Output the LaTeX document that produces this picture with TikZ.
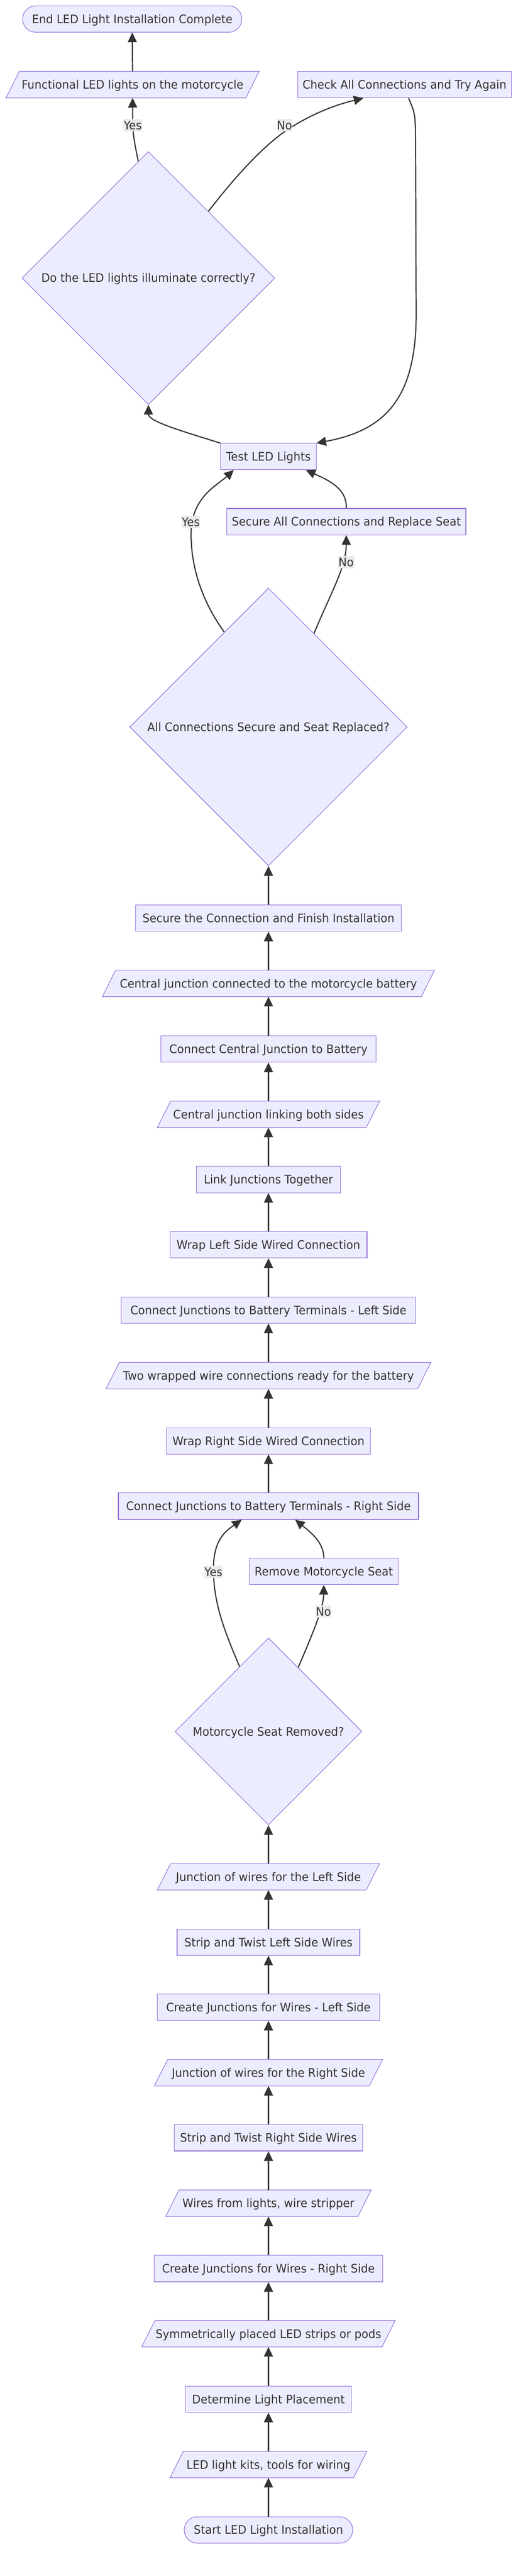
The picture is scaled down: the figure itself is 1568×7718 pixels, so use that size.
\documentclass[tikz,border=0pt]{standalone}
\usepackage{fontspec}
\setmainfont{DejaVu Sans}[FakeStretch=0.95]
\usetikzlibrary{shapes.geometric,arrows.meta,calc,backgrounds}
\definecolor{nodefill}{HTML}{ECECFF}
\definecolor{nodeline}{HTML}{9370DB}
\definecolor{inkc}{HTML}{333333}
\definecolor{lblbg}{HTML}{EAEAEA}
\tikzset{
  base/.style={font=\fontsize{35.2}{42}\selectfont, text=inkc, inner sep=0pt,
    text height=25.7pt, text depth=0pt, minimum height=79pt},
  box/.style={base, rectangle, draw=nodeline, fill=nodefill, line width=1.7pt},
  stadium/.style={box, rounded corners=39pt},
  para/.style={base, rectangle},
  parashape/.style={draw=nodeline, fill=nodefill, line width=1.7pt},
  decision/.style={base, diamond, aspect=1, draw=nodeline, fill=nodefill, line width=1.7pt},
  edge/.style={draw=inkc, line width=3.4pt, -{Triangle[length=29pt,width=27pt]}},
  elabel/.style={font=\fontsize{35.2}{42}\selectfont, text=inkc, fill=lblbg,
    text height=25.7pt, text depth=0pt, inner xsep=0.5pt, inner ysep=5.6pt},
}
\newcommand\parabg[1]{\path[parashape] ($(#1.south west)+(-20,0)$) -- ($(#1.north west)+(20,0)$) -- ($(#1.north east)+(20,0)$) -- ($(#1.south east)+(-20,0)$) -- cycle;}
\begin{document}
\begin{tikzpicture}[x=1pt,y=-1pt]
\useasboundingbox (0,0) rectangle (1568,7718);
% nodes
\node[stadium, minimum width=657pt] (endn) at (396.5,57) {End LED Light Installation Complete};
\node[para, minimum width=719pt] (func) at (397.5,253.5) {Functional LED lights on the motorcycle};
\node[box, minimum width=640pt] (check) at (1213,253.5) {Check All Connections and Try Again};
\node[decision, minimum width=758pt, minimum height=758pt] (d1) at (445,833) {Do the LED lights illuminate correctly?};
\node[box, minimum width=286pt] (test) at (805,1368) {Test LED Lights};
\node[box, minimum width=717pt] (secall) at (1038.5,1563) {Secure All Connections and Replace Seat};
\node[decision, minimum width=832pt, minimum height=832pt] (d2) at (805,2178) {All Connections Secure and Seat Replaced?};
\node[box, minimum width=796pt] (secure) at (805,2751) {Secure the Connection and Finish Installation};
\node[para, minimum width=956pt] (cjbat) at (805,2946.5) {Central junction connected to the motorcycle battery};
\node[box, minimum width=645pt] (ccjb) at (805,3143) {Connect Central Junction to Battery};
\node[para, minimum width=626pt] (cjlink) at (805,3338.5) {Central junction linking both sides};
\node[box, minimum width=432pt] (link) at (805,3534) {Link Junctions Together};
\node[box, minimum width=591pt] (wrapl) at (805,3729.5) {Wrap Left Side Wired Connection};
\node[box, minimum width=882pt] (connl) at (805,3925) {Connect Junctions to Battery Terminals - Left Side};
\node[para, minimum width=934pt] (two) at (805,4121.5) {Two wrapped wire connections ready for the battery};
\node[box, minimum width=610pt] (wrapr) at (805,4317) {Wrap Right Side Wired Connection};
\node[box, minimum width=900pt] (connr) at (805,4512.5) {Connect Junctions to Battery Terminals - Right Side};
\node[box, minimum width=446pt] (remove) at (971,4708) {Remove Motorcycle Seat};
\node[decision, minimum width=560pt, minimum height=560pt] (d3) at (805,5187.5) {Motorcycle Seat Removed?};
\node[para, minimum width=626pt] (jl) at (805,5623) {Junction of wires for the Left Side};
\node[box, minimum width=548pt] (stripl) at (805,5819) {Strip and Twist Left Side Wires};
\node[box, minimum width=668pt] (cjl) at (805,6014) {Create Junctions for Wires - Left Side};
\node[para, minimum width=644pt] (jr) at (805,6210) {Junction of wires for the Right Side};
\node[box, minimum width=566pt] (stripr) at (805,6405) {Strip and Twist Right Side Wires};
\node[para, minimum width=576pt] (wires) at (805,6601) {Wires from lights, wire stripper};
\node[box, minimum width=686pt] (cjr) at (805,6797) {Create Junctions for Wires - Right Side};
\node[para, minimum width=720pt] (sym) at (805,6992) {Symmetrically placed LED strips or pods};
\node[box, minimum width=496pt] (det) at (805,7188) {Determine Light Placement};
\node[para, minimum width=550pt] (kits) at (805,7384) {LED light kits, tools for wiring};
\node[stadium, minimum width=505pt] (start) at (805,7580) {Start LED Light Installation};
% parallelogram outlines
\begin{scope}[on background layer]
\foreach \p in {func,cjbat,cjlink,two,jl,jr,wires,sym,kits} {\parabg{\p}}
\end{scope}
% straight edges
\foreach \a/\b in {start/kits,kits/det,det/sym,sym/cjr,cjr/wires,wires/stripr,stripr/jr,jr/cjl,cjl/stripl,stripl/jl,jl/d3,
  connr/wrapr,wrapr/two,two/connl,connl/wrapl,wrapl/link,link/cjlink,cjlink/ccjb,ccjb/cjbat,cjbat/secure,secure/d2,func/endn}
  {\draw[edge] (\a.north) -- (\b.south);}
% decision 3
\draw[edge] (d3.114.2) .. controls (670,4880) and (640,4800) .. (640,4700) .. controls (640,4610) and (680,4585) .. ($(connr.south)+(-80,0)$);
\draw[edge] (d3.65.5) .. controls (935,4900) and (970,4820) .. (remove.south);
\draw[edge] (remove.north) .. controls (971,4620) and (930,4590) .. ($(connr.south)+(80,0)$);
\node[elabel] (ly3) at (640,4710) {Yes};
\node[elabel] (ln3) at (970,4829) {No};
% decision 2
\draw[edge] (d2.115.1) .. controls (605,1800) and (573,1700) .. (573,1600) .. controls (573,1490) and (650,1455) .. ($(test.south)+(-104,0)$);
\draw[edge] (d2.64.6) .. controls (990,1780) and (1038,1700) .. (secall.south);
\draw[edge] (secall.north) .. controls (1040,1470) and (1000,1445) .. ($(test.south)+(112,0)$);
\node[elabel] (ly2) at (572,1564) {Yes};
\node[elabel] (ln2) at (1038,1684) {No};
% decision 1
\draw[edge] (test.north west) .. controls (540,1290) and (445,1262) .. (d1.south);
\draw[edge] (d1.95.6) .. controls (402,420) and (398,400) .. (398,360) -- (func.south);
\draw[edge] (d1.48.5) .. controls (720,510) and (800,430) .. (860,390) .. controls (920,350) and (990,318) .. ($(check.south)+(-123,0)$);
\draw[edge] ($(check.south)+(12,0)$) .. controls (1245,340) .. (1246,420) -- (1248,940) .. controls (1248,1200) and (1150,1290) .. (test.north east);
\node[elabel] (ly1) at (398,375) {Yes};
\node[elabel] (ln1) at (853,375) {No};
\end{tikzpicture}
\end{document}
